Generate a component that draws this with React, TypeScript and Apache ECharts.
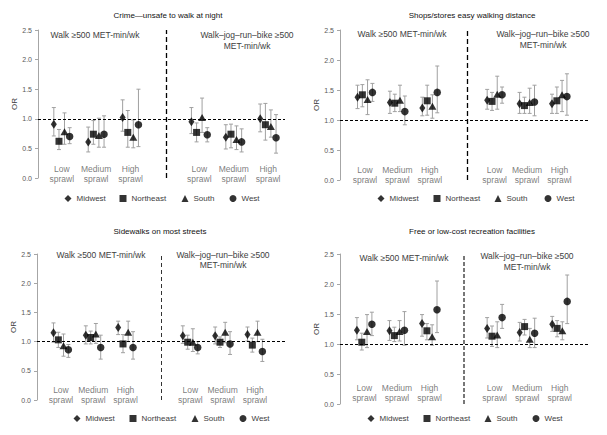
import React, { useEffect, useRef } from "react";
import * as echarts from "echarts";

// ---------- data ----------
const regions = ["Midwest", "Northeast", "South", "West"];
const groupLabels = ["Low\nsprawl", "Medium\nsprawl", "High\nsprawl"];
const groupX = [1, 2, 3, 5, 6, 7];
const regionOffsets = [-0.23, -0.08, 0.08, 0.23];
const halfTitles = ["Walk \u2265500 MET-min/wk", "Walk\u2013jog\u2013run\u2013bike \u2265500\nMET-min/wk"];
const panelTitles = [
  "Crime\u2014unsafe to walk at night",
  "Shops/stores easy walking distance",
  "Sidewalks on most streets",
  "Free or low-cost recreation facilities",
];
const yTicks = [0, 0.5, 1, 1.5, 2, 2.5];
const referenceOR = 1.0;

// rows: Midwest, Northeast, South, West; columns: Low, Medium, High (walk) then Low, Medium, High (walk-jog-run-bike)
const crimeOR = [
  [0.91, 0.61, 1.02, 0.95, 0.69, 1.0],
  [0.62, 0.74, 0.77, 0.77, 0.74, 0.9],
  [0.78, 0.72, 0.69, 1.02, 0.65, 0.87],
  [0.7, 0.74, 0.9, 0.73, 0.61, 0.68],
];
const crimeLo = [
  [0.71, 0.44, 0.79, 0.75, 0.49, 0.78],
  [0.48, 0.57, 0.52, 0.61, 0.51, 0.64],
  [0.57, 0.52, 0.51, 0.77, 0.48, 0.69],
  [0.58, 0.52, 0.53, 0.61, 0.44, 0.42],
];
const crimeHi = [
  [1.19, 0.86, 1.32, 1.19, 0.9, 1.25],
  [0.82, 0.97, 1.14, 0.93, 0.91, 1.26],
  [1.1, 1.01, 0.98, 1.35, 0.88, 1.15],
  [0.85, 1.05, 1.5, 0.85, 0.83, 1.07],
];

const shopsOR = [
  [1.38, 1.29, 1.2, 1.33, 1.27, 1.27],
  [1.42, 1.28, 1.32, 1.31, 1.24, 1.32],
  [1.34, 1.33, 1.23, 1.43, 1.29, 1.42],
  [1.46, 1.14, 1.46, 1.42, 1.3, 1.39],
];
const shopsLo = [
  [1.19, 1.11, 1.07, 1.18, 1.11, 1.11],
  [1.22, 1.14, 1.08, 1.16, 1.11, 1.11],
  [1.09, 1.14, 1.03, 1.18, 1.11, 1.14],
  [1.31, 0.92, 1.12, 1.28, 1.07, 1.08],
];
const shopsHi = [
  [1.58, 1.48, 1.38, 1.51, 1.46, 1.43],
  [1.59, 1.43, 1.58, 1.46, 1.38, 1.55],
  [1.67, 1.58, 1.42, 1.73, 1.53, 1.66],
  [1.61, 1.4, 1.9, 1.55, 1.58, 1.77],
];

const sidewalkOR = [
  [1.15, 1.11, 1.24, 1.1, 1.1, 1.12],
  [1.03, 1.07, 0.96, 0.99, 0.99, 0.94],
  [0.93, 1.13, 1.16, 0.99, 1.16, 1.16],
  [0.86, 0.9, 0.9, 0.9, 0.96, 0.83],
];
const sidewalkLo = [
  [0.99, 0.96, 1.12, 0.97, 0.96, 1.01],
  [0.9, 0.96, 0.81, 0.87, 0.9, 0.82],
  [0.75, 0.97, 1.0, 0.83, 0.98, 1.0],
  [0.73, 0.7, 0.7, 0.79, 0.78, 0.66],
];
const sidewalkHi = [
  [1.32, 1.27, 1.35, 1.27, 1.25, 1.25],
  [1.16, 1.18, 1.12, 1.11, 1.08, 1.06],
  [1.13, 1.31, 1.35, 1.22, 1.33, 1.35],
  [0.95, 1.11, 1.17, 1.0, 1.17, 1.04],
];

const recOR = [
  [1.23, 1.22, 1.34, 1.26, 1.19, 1.33],
  [1.03, 1.14, 1.22, 1.13, 1.29, 1.26],
  [1.21, 1.21, 1.12, 1.15, 1.08, 1.22],
  [1.33, 1.23, 1.57, 1.44, 1.18, 1.71],
];
const recLo = [
  [1.07, 1.06, 1.13, 1.1, 1.05, 1.21],
  [0.9, 1.04, 1.07, 0.96, 1.15, 1.12],
  [0.94, 1.05, 0.98, 0.94, 0.94, 1.07],
  [1.14, 0.98, 1.19, 1.26, 0.94, 1.34],
];
const recHi = [
  [1.44, 1.39, 1.49, 1.44, 1.36, 1.46],
  [1.18, 1.28, 1.34, 1.3, 1.41, 1.39],
  [1.49, 1.39, 1.32, 1.37, 1.26, 1.37],
  [1.53, 1.54, 2.05, 1.66, 1.43, 2.15],
];

// ---------- layout / style ----------
const FONT = "'Liberation Sans', Arial, sans-serif";
const symbols = ["diamond", "rect", "triangle", "circle"];
const symbolSizes: any[] = [[6, 9], 7, [8, 7], 7.5];
const legendIcon = 7;

const panels = [
  {
    or: crimeOR, lo: crimeLo, hi: crimeHi,
    grid: { left: 38, top: 30, width: 247, height: 148 },
    xMin: 0.31, xMax: 7.49, divider: 4.04, labelY: 0.06,
    title: [168, 15], halfL: [95, 35], halfR: [247, 40], halfRLH: 11,
    legendX: [68, 123, 185, 233], legendY: 200,
    divStyle: { color: "#000", width: 1.3, type: [5, 3] },
  },
  {
    or: shopsOR, lo: shopsLo, hi: shopsHi,
    grid: { left: 340, top: 30, width: 248, height: 150 },
    xMin: 0.23, xMax: 7.88, divider: 4.14, labelY: 0.09,
    title: [472, 15], halfL: [402, 34], halfR: [543, 39], halfRLH: 11,
    legendX: [381, 437, 498, 548], legendY: 200,
    divStyle: { color: "#000", width: 1.3, type: [5, 3] },
  },
  {
    or: sidewalkOR, lo: sidewalkLo, hi: sidewalkHi,
    grid: { left: 37, top: 254, width: 248, height: 146 },
    xMin: 0.26, xMax: 7.93, divider: 4.11, labelY: 0.09,
    title: [160, 231], halfL: [101, 255], halfR: [223, 260], halfRLH: 10,
    legendX: [77, 133, 195, 243], legendY: 420,
    divStyle: { color: "#333", width: 1, type: [4, 3] },
  },
  {
    or: recOR, lo: recLo, hi: recHi,
    grid: { left: 340, top: 254, width: 250, height: 150 },
    xMin: 0.25, xMax: 7.93, divider: 4.06, labelY: 0.18,
    title: [472, 231], halfL: [404, 258], halfR: [527, 261], halfRLH: 11,
    legendX: [371, 427, 488, 536], legendY: 420,
    divStyle: { color: "#777", width: 2, type: [4, 2] },
  },
];

function textEl(x: number, y: number, text: string, fill: string, size: number, lh?: number) {
  return {
    type: "text",
    x,
    y,
    silent: true,
    style: {
      text,
      fill,
      font: `normal 400 ${size}px ${FONT}`,
      lineHeight: lh,
      textAlign: "center",
      textVerticalAlign: "middle",
      align: "center",
      verticalAlign: "middle",
    },
  };
}

function buildOption() {
  const grid: any[] = [];
  const xAxis: any[] = [];
  const yAxis: any[] = [];
  const series: any[] = [];
  const legend: any[] = [];
  const graphic: any[] = [];

  panels.forEach((p, pi) => {
    grid.push({ ...p.grid, containLabel: false });
    xAxis.push({ gridIndex: pi, type: "value", min: p.xMin, max: p.xMax, show: false });
    yAxis.push({
      gridIndex: pi,
      type: "value",
      min: yTicks[0],
      max: yTicks[yTicks.length - 1],
      interval: yTicks[1] - yTicks[0],
      name: "OR",
      nameLocation: "middle",
      nameGap: 19,
      nameTextStyle: { fontSize: 8, color: "#404040", fontFamily: FONT },
      splitLine: { show: false },
      axisLine: { show: true, lineStyle: { color: "#a6a6a6", width: 1 } },
      axisTick: { show: true, length: 3, lineStyle: { color: "#a6a6a6" } },
      axisLabel: {
        fontSize: 7,
        color: "#595959",
        fontFamily: FONT,
        margin: 6,
        formatter: (v: number) => v.toFixed(1),
      },
    });

    regions.forEach((r, ri) => {
      const errData = groupX.map((gx, gi) => [gx + regionOffsets[ri], p.lo[ri][gi], p.hi[ri][gi]]);
      series.push({
        type: "custom",
        name: r + "-err",
        xAxisIndex: pi,
        yAxisIndex: pi,
        silent: true,
        z: 2,
        encode: { x: 0, y: [1, 2] },
        data: errData,
        renderItem: (params: any, api: any) => {
          const x = api.value(0);
          const a = api.coord([x, api.value(1)]);
          const b = api.coord([x, api.value(2)]);
          const cw = 2;
          const st = { stroke: "#a0a0a0", lineWidth: 1 };
          return {
            type: "group",
            children: [
              { type: "line", shape: { x1: a[0], y1: a[1], x2: b[0], y2: b[1] }, style: st },
              { type: "line", shape: { x1: a[0] - cw, y1: a[1], x2: a[0] + cw, y2: a[1] }, style: st },
              { type: "line", shape: { x1: b[0] - cw, y1: b[1], x2: b[0] + cw, y2: b[1] }, style: st },
            ],
          };
        },
      });
      series.push({
        type: "scatter",
        name: r,
        xAxisIndex: pi,
        yAxisIndex: pi,
        symbol: symbols[ri],
        symbolSize: symbolSizes[ri],
        itemStyle: { color: "#000" },
        z: 3,
        silent: true,
        data: groupX.map((gx, gi) => [gx + regionOffsets[ri], p.or[ri][gi]]),
      });

      legend.push({
        left: p.legendX[ri] - legendIcon / 2,
        top: p.legendY - 5.5,
        itemWidth: legendIcon,
        itemHeight: legendIcon,
        padding: 0,
        selectedMode: false,
        textStyle: { fontSize: 8, color: "#404040", fontFamily: FONT },
        data: [{ name: r, icon: symbols[ri] }],
      });
    });

    // group labels + reference lines
    series.push({
      type: "scatter",
      name: "labels" + pi,
      xAxisIndex: pi,
      yAxisIndex: pi,
      symbolSize: 0,
      silent: true,
      z: 1,
      data: groupX.map((gx, gi) => ({ name: groupLabels[gi % 3], value: [gx, p.labelY] })),
      label: {
        show: true,
        position: "inside",
        formatter: (d: any) => d.name,
        color: "#595959",
        fontSize: 8.5,
        lineHeight: 10,
        fontFamily: FONT,
      },
      markLine: {
        silent: true,
        symbol: ["none", "none"],
        label: { show: false },
        data: [
          { yAxis: referenceOR, lineStyle: { color: "#000", width: 1, type: [3, 2] } },
          { xAxis: p.divider, lineStyle: p.divStyle },
        ],
      },
    });

    graphic.push(textEl(p.title[0], p.title[1], panelTitles[pi], "#111", 8));
    graphic.push(textEl(p.halfL[0], p.halfL[1], halfTitles[0], "#404040", 8.5));
    graphic.push(textEl(p.halfR[0], p.halfR[1], halfTitles[1], "#404040", 8.5, p.halfRLH));
  });

  return {
    animation: false,
    backgroundColor: "#fff",
    textStyle: { fontFamily: FONT },
    grid,
    xAxis,
    yAxis,
    legend,
    series,
    graphic,
  };
}

export default function App() {
  const ref = useRef<HTMLDivElement>(null);
  useEffect(() => {
    if (!ref.current) return;
    const chart = echarts.init(ref.current, undefined, { renderer: "svg" });
    chart.setOption(buildOption() as any);
    return () => chart.dispose();
  }, []);
  return (
    <div
      ref={ref}
      style={{ position: "fixed", left: 0, top: 0, width: 607, height: 435, background: "#fff" }}
    />
  );
}
